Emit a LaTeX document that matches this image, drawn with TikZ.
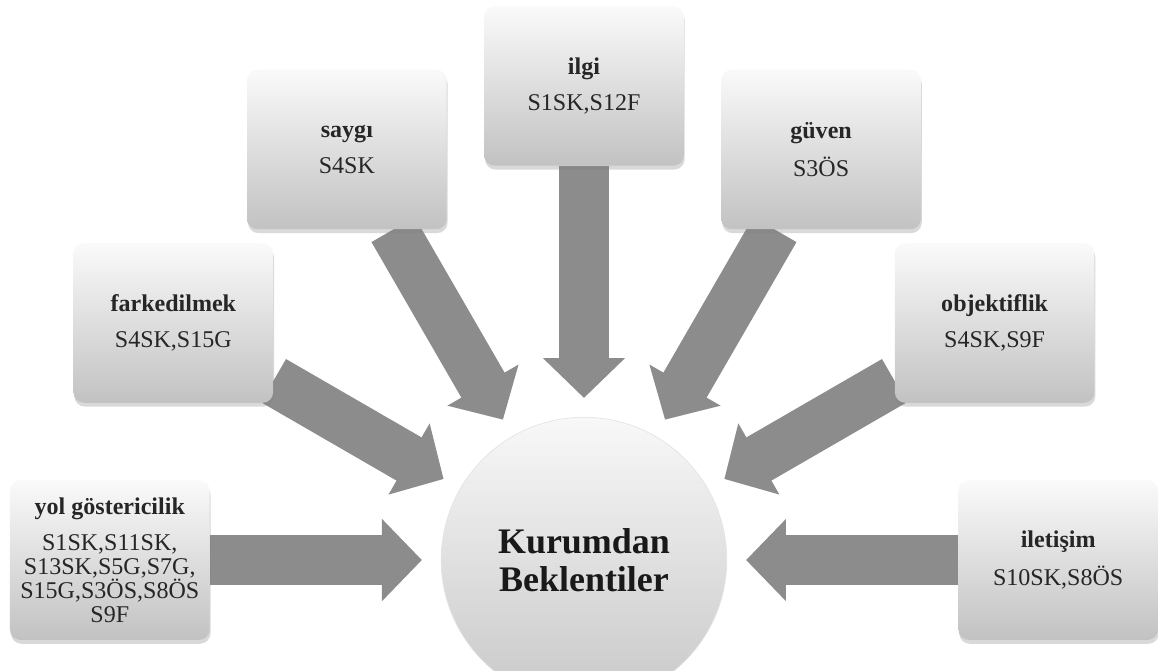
\documentclass[tikz,border=0pt]{standalone}
\usepackage{fontspec}
\setmainfont{Liberation Serif}
\usepackage{xcolor}
\usetikzlibrary{arrows.meta,shadows,backgrounds}
\definecolor{boxtop}{RGB}{250,250,250}
\definecolor{boxbot}{RGB}{194,194,194}
\definecolor{hubtop}{RGB}{248,248,248}
\definecolor{hubbot}{RGB}{200,200,200}
\definecolor{arrowgray}{RGB}{140,140,140}
\definecolor{textgray}{RGB}{38,38,38}

\begin{document}
\begin{tikzpicture}[>=Triangle,
    sbox/.style={rounded corners=6pt, top color=boxtop, bottom color=boxbot,
                 minimum width=4cm, minimum height=3.2cm, align=center,
                 text=textgray, font=\fontsize{13.7}{13.7}\selectfont,
                 drop shadow={shadow xshift=0.5pt, shadow yshift=-2.2pt, opacity=0.3}},
    hub/.style={circle, minimum size=5.72cm, top color=hubtop, bottom color=hubbot,
                draw=gray!22, align=center, text=black!90,
                font=\bfseries\fontsize{20.5}{21.6}\selectfont},
    feed/.style={line width=1cm, draw=arrowgray,
                 -{Triangle[length=0.8cm, width=1.6cm]}, shorten >=0.38cm}]

  \clip (-11.7,-2.22) rectangle (11.5,11.22);

  % centre
  \node[hub] (kb) at (0,0) {Kurumdan\\Beklentiler};

  % expectations round it
  \node[sbox] (yol) at (180:9.5)
        {\textbf{yol göstericilik}\\[6.8pt] S1SK,S11SK,\\S13SK,S5G,S7G,\\S15G,S3ÖS,S8ÖS\\S9F};
  \node[sbox] (fark) at (150:9.5) {\textbf{farkedilmek}\\[6.8pt] S4SK,S15G};
  \node[sbox] (saygi) at (120:9.5) {\textbf{saygı}\\[6.8pt] S4SK};
  \node[sbox] (ilgi) at (90:9.5) {\textbf{ilgi}\\[6.8pt] S1SK,S12F};
  \node[sbox] (guven) at (60:9.5) {\textbf{güven}\\[6.8pt] S3ÖS};
  \node[sbox] (objektif) at (30:9.5) {\textbf{objektiflik}\\[6.8pt] S4SK,S9F};
  \node[sbox] (iletisim) at (0:9.5) {\textbf{iletişim}\\[6.8pt] S10SK,S8ÖS};

  % block arrows, under the boxes
  \begin{scope}[on background layer]
    \draw[feed] (yol) -- (kb);
    \draw[feed] (fark) -- (kb);
    \draw[feed] (saygi) -- (kb);
    \draw[feed] (ilgi) -- (kb);
    \draw[feed] (guven) -- (kb);
    \draw[feed] (objektif) -- (kb);
    \draw[feed] (iletisim) -- (kb);
  \end{scope}

\end{tikzpicture}
\end{document}
